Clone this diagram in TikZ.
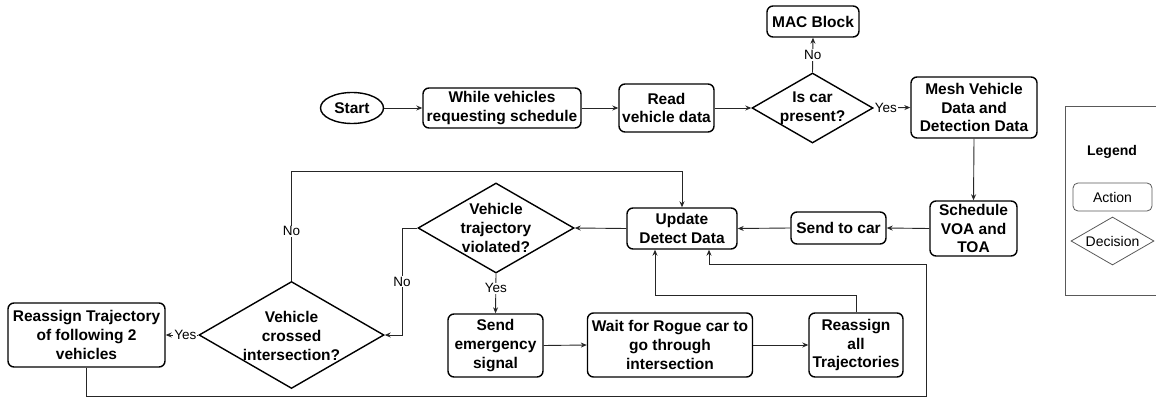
\documentclass[tikz,border=0pt]{standalone}
\usepackage{fontspec}
\setmainfont{Liberation Sans}
\usetikzlibrary{shapes.geometric,arrows.meta,calc}
\begin{document}
\begin{tikzpicture}[x=1pt,y=-1pt,
  bfont/.style={font=\fontsize{15.5}{18.6}\selectfont\bfseries},
  box/.style={draw=black,line width=1.4pt,rounded corners=6pt,align=center,inner sep=0pt,bfont},
  dia/.style={draw=black,line width=1.4pt,shape=diamond,inner sep=0pt},
  dtext/.style={align=center,bfont},
  arr/.style={draw=black!85,line width=0.9pt,-{Stealth[length=6pt,width=5pt]}},
  lbl/.style={fill=white,inner sep=1pt,font=\fontsize{13.5}{15}\selectfont},
  lgfont/.style={font=\fontsize{14}{16}\selectfont},
  lgline/.style={draw=black!65,line width=0.8pt},
]
\clip (0,0) rectangle (1156,398);

% main row
\node[draw=black,line width=1.4pt,ellipse,inner sep=0pt,minimum width=63pt,minimum height=31pt,bfont] (start) at (352,108) {Start};
\node[box,minimum width=158pt,minimum height=40pt] (while) at (502,108) {While vehicles\\requesting schedule};
\node[box,minimum width=95pt,minimum height=48pt] (read) at (666.5,108) {Read\\vehicle data};
\node[dia,minimum width=121pt,minimum height=70pt,label={[dtext]center:{Is car\\present?}}] (d1) at (812.5,108) {};
\node[box,minimum width=92pt,minimum height=31pt] (mac) at (813,21.5) {MAC Block};
\node[box,minimum width=126pt,minimum height=61pt] (mesh) at (974,107.5) {Mesh Vehicle\\Data and\\Detection Data};

% second row
\node[box,minimum width=87pt,minimum height=55pt] (sched) at (973.5,228.5) {Schedule\\VOA and\\TOA};
\node[box,minimum width=95pt,minimum height=32pt] (send) at (838.5,228) {Send to car};
\node[box,minimum width=110pt,minimum height=41pt] (update) at (682,228.5) {Update\\Detect Data};
\node[dia,minimum width=156pt,minimum height=90pt,label={[dtext]center:{Vehicle\\trajectory\\violated?}}] (d2) at (496,228) {};
\node[dia,minimum width=185pt,minimum height=107pt,label={[dtext,yshift=-1pt]center:{Vehicle\\crossed\\intersection?}}] (d3) at (291.5,335) {};
\node[box,minimum width=157pt,minimum height=64pt] (re2) at (86.5,335) {Reassign Trajectory\\of following 2\\vehicles};

% third row
\node[box,minimum width=95pt,minimum height=63pt] (emerg) at (495.5,345.5) {Send\\emergency\\signal};
\node[box,minimum width=165pt,minimum height=64pt] (wait) at (670,345) {Wait for Rogue car to\\go through\\intersection};
\node[box,minimum width=94pt,minimum height=64pt] (reall) at (856,345) {Reassign\\all\\Trajectories};

% connectors
\draw[arr] (start.east) -- (while.west);
\draw[arr] (while.east) -- (read.west);
\draw[arr] (read.east) -- (d1.west);
\draw[arr] (d1.north) -- node[lbl]{No} (mac.south);
\draw[arr] (d1.east) -- node[lbl,pos=0.33]{Yes} (mesh.west);
\draw[arr] (mesh.south) -- (sched.north);
\draw[arr] (sched.west) -- (send.east);
\draw[arr] (send.west) -- (update.east);
\draw[arr] (update.west) -- (d2.east);
\draw[arr] (d2.south) -- node[lbl,pos=0.37]{Yes} (emerg.north);
\draw[arr] (emerg.east) -- (wait.west);
\draw[arr] (wait.east) -- (reall.west);

\coordinate (b1) at (655,295);
\draw[arr] (reall.north) |- (b1) -- (b1 |- update.south);

\coordinate (b2) at (402,228);
\draw[arr] (d2.west) -- (b2) |- node[lbl,pos=0.25]{No} (d3.east);

\draw[arr] (d3.west) -- node[lbl,pos=0.4]{Yes} (re2.east);

\coordinate (t1) at (291.5,171);
\draw[arr] (d3.north) -- node[lbl,pos=0.45]{No} (t1) -| (update.north);

\coordinate (r2) at (926,396.5);
\coordinate (r3) at (926,264);
\coordinate (r4) at (709,264);
\draw[arr] (re2.south) -- (re2.south |- r2) -- (r2) -- (r3) -- (r4) -- (r4 |- update.south);

% legend
\node[lgline,minimum width=105pt,minimum height=189pt,inner sep=0pt] (legend) at (1117.5,200.5) {};
\node[lgfont,font=\fontsize{14}{16}\selectfont\bfseries] (legt) at (1112,152) {Legend};
\node[lgline,rounded corners=5pt,minimum width=79pt,minimum height=28pt,inner sep=0pt,lgfont] (lact) at (1112.5,197) {Action};
\node[lgline,diamond,minimum width=83pt,minimum height=48pt,inner sep=0pt,label={[lgfont]center:Decision}] (ldec) at (1112.5,241) {};
\end{tikzpicture}
\end{document}
